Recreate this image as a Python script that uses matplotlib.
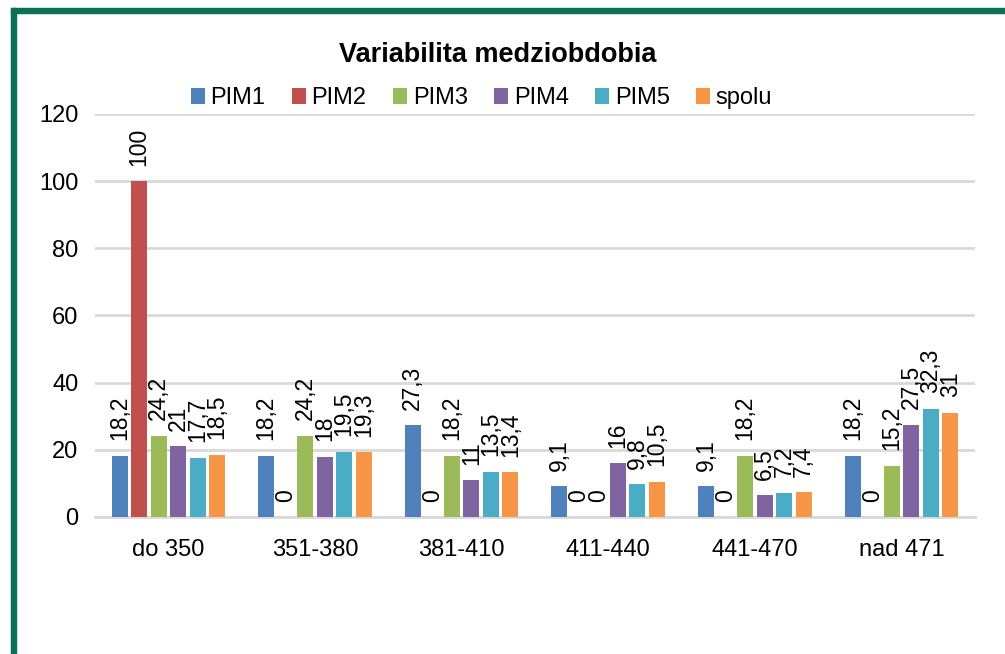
import matplotlib.pyplot as plt
from matplotlib.patches import Rectangle
import numpy as np

plt.rcParams['font.family'] = ['Liberation Sans', 'DejaVu Sans']

kategorie = ["do 350", "351-380", "381-410", "411-440", "441-470", "nad 471"]
serie = ["PIM1", "PIM2", "PIM3", "PIM4", "PIM5", "spolu"]
pim1 = [18.2, 18.2, 27.3, 9.1, 9.1, 18.2]
pim2 = [100, 0, 0, 0, 0, 0]
pim3 = [24.2, 24.2, 18.2, 0, 18.2, 15.2]
pim4 = [21, 18, 11, 16, 6.5, 27.5]
pim5 = [17.7, 19.5, 13.5, 9.8, 7.2, 32.3]
spolu = [18.5, 19.3, 13.4, 10.5, 7.4, 31]
farby = ["#4F81BD", "#C0504D", "#9BBB59", "#8064A2", "#4BACC6", "#F79646"]

hodnoty = [pim1, pim2, pim3, pim4, pim5, spolu]

fig = plt.figure(figsize=(10.05, 6.54), dpi=100)
ax = fig.add_axes([0.0945, 0.2095, 0.8755, 0.6162])

x = np.arange(len(kategorie))
sirka = 0.133
for i, (nazov, data) in enumerate(zip(serie, hodnoty)):
    pos = x + (i - 2.5) * sirka
    ax.bar(pos, data, width=sirka * 0.82, color=farby[i], label=nazov, zorder=3)
    for px, v in zip(pos, data):
        txt = str(v).replace(".", ",")
        if txt.endswith(",0"):
            txt = txt[:-2]
        # popisky nad stlpcom, otocene
        ax.text(px, v + 4.6, txt, rotation=90, ha="center", va="bottom",
                fontsize=16.5, color="#000000", zorder=4)

ax.set_xlim(-0.5, len(kategorie) - 0.5)
ax.set_ylim(0, 120)
ax.set_yticks(range(0, 121, 20))
ax.set_xticks(x)
ax.set_xticklabels(kategorie, fontsize=17)
ax.tick_params(axis="y", labelsize=17, length=0, pad=12)
ax.tick_params(axis="x", length=0, pad=16)
ax.grid(axis="y", color="#D9D9D9", linewidth=2, zorder=0)
for s in ["top", "right", "left"]:
    ax.spines[s].set_visible(False)
ax.spines["bottom"].set_color("#D9D9D9")
ax.spines["bottom"].set_linewidth(2)

fig.text(0.495, 0.916, "Variabilita medziobdobia", ha="center", va="center",
         fontsize=19.5, fontweight="bold")
fig.legend(loc="center", bbox_to_anchor=(0.479, 0.85), ncol=6, frameon=False,
           fontsize=17, handlelength=0.6, handleheight=0.7, handletextpad=0.25,
           columnspacing=1.1)

# zeleny ramik
zelena = "#0B7055"
fig.patches.append(Rectangle((11 / 1005, 1 - 13 / 654), 1, 5 / 654, transform=fig.transFigure,
                             color=zelena, zorder=10))
fig.patches.append(Rectangle((11 / 1005, 0), 5 / 1005, 1 - 8 / 654, transform=fig.transFigure,
                             color=zelena, zorder=10))

fig.savefig("out.png", dpi=100)
